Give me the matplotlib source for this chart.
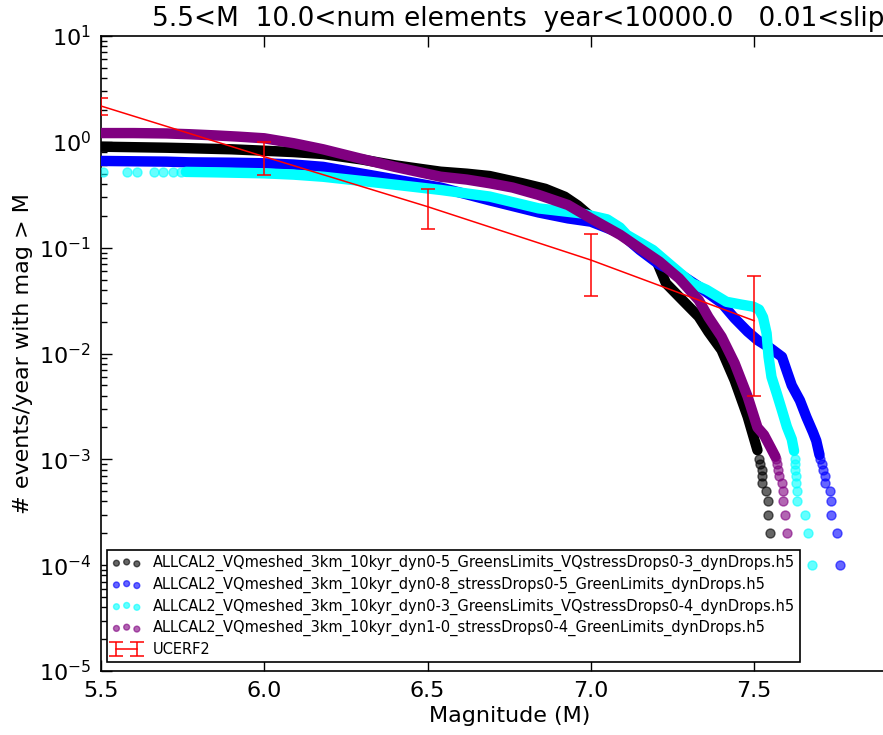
import matplotlib
matplotlib.use("Agg")
import matplotlib.pyplot as plt
import numpy as np

# ---------------- data ----------------
names = [
    "ALLCAL2_VQmeshed_3km_10kyr_dyn0-5_GreensLimits_VQstressDrops0-3_dynDrops.h5",
    "ALLCAL2_VQmeshed_3km_10kyr_dyn0-8_stressDrops0-5_GreenLimits_dynDrops.h5",
    "ALLCAL2_VQmeshed_3km_10kyr_dyn0-3_GreensLimits_VQstressDrops0-4_dynDrops.h5",
    "ALLCAL2_VQmeshed_3km_10kyr_dyn1-0_stressDrops0-4_GreenLimits_dynDrops.h5",
]
colors = ["black", "blue", "cyan", "purple"]

black_mag = [5.50, 5.60, 5.70, 5.77, 5.90, 6.00, 6.09, 6.18, 6.30, 6.40, 6.54, 6.62, 6.69,
             6.79, 6.86, 6.92, 6.96, 7.00, 7.05, 7.09, 7.15, 7.20, 7.23, 7.27, 7.33, 7.36,
             7.40, 7.44, 7.48, 7.51]
black_rate = [0.90, 0.89, 0.88, 0.87, 0.85, 0.824, 0.80, 0.767, 0.68, 0.60, 0.522, 0.50, 0.475,
              0.406, 0.36, 0.303, 0.25, 0.196, 0.16, 0.137, 0.106, 0.0764, 0.046, 0.0344, 0.0223,
              0.016, 0.0108, 0.0056, 0.00253, 0.00122]
black_tail_mag = [7.515, 7.518, 7.523, 7.525, 7.525, 7.535, 7.541, 7.541, 7.548, 7.556]
black_tail_rate = [1e-3, 9e-4, 8e-4, 7e-4, 6e-4, 5e-4, 4e-4, 3e-4, 2e-4, 1e-4]

blue_mag = [5.50, 5.60, 5.70, 5.77, 5.90, 6.00, 6.09, 6.18, 6.35, 6.54, 6.69, 6.84, 6.93,
            7.00, 7.09, 7.15, 7.21, 7.27, 7.33, 7.40, 7.44, 7.48, 7.51, 7.55, 7.585, 7.60,
            7.615, 7.64, 7.66, 7.68, 7.69, 7.70]
blue_rate = [0.66, 0.655, 0.65, 0.64, 0.635, 0.627, 0.61, 0.58, 0.47, 0.37, 0.28, 0.215, 0.189,
             0.176, 0.137, 0.095, 0.069, 0.057, 0.043, 0.030, 0.0215, 0.0161, 0.0134, 0.0112,
             0.0093, 0.0068, 0.0050, 0.0036, 0.0025, 0.0018, 0.0015, 0.0011]
blue_tail_mag = [7.703, 7.707, 7.712, 7.717, 7.717, 7.732, 7.735, 7.735, 7.755, 7.763]
blue_tail_rate = [1e-3, 9e-4, 8e-4, 7e-4, 6e-4, 5e-4, 4e-4, 3e-4, 2e-4, 1e-4]

cyan_head_mag = [5.507, 5.579, 5.609, 5.663, 5.691, 5.72, 5.745]
cyan_head_rate = [0.52, 0.52, 0.52, 0.52, 0.52, 0.52, 0.52]
cyan_mag = [5.76, 5.85, 5.92, 6.00, 6.09, 6.18, 6.35, 6.54, 6.69, 6.84, 6.97, 7.05, 7.089,
            7.11, 7.19, 7.25, 7.31, 7.354, 7.415, 7.46, 7.497, 7.515, 7.527, 7.538, 7.544,
            7.553, 7.569, 7.585, 7.600, 7.615, 7.622]
cyan_rate = [0.52, 0.515, 0.51, 0.504, 0.49, 0.468, 0.41, 0.351, 0.304, 0.235, 0.211, 0.185,
             0.155, 0.132, 0.095, 0.066, 0.046, 0.040, 0.0308, 0.029, 0.0277, 0.026, 0.022,
             0.0155, 0.0093, 0.006, 0.0042, 0.0029, 0.00203, 0.00155, 0.0012]
cyan_tail_mag = [7.624, 7.625, 7.626, 7.628, 7.628, 7.630, 7.632, 7.657, 7.666, 7.677]
cyan_tail_rate = [1e-3, 9e-4, 8e-4, 7e-4, 6e-4, 5e-4, 4e-4, 3e-4, 2e-4, 1e-4]

purple_mag = [5.50, 5.60, 5.70, 5.77, 5.85, 5.92, 6.00, 6.09, 6.18, 6.29, 6.40, 6.54, 6.62,
              6.69, 6.76, 6.84, 6.93, 7.00, 7.09, 7.15, 7.21, 7.27, 7.33, 7.36, 7.40, 7.44,
              7.48, 7.51, 7.53, 7.55, 7.565]
purple_rate = [1.21, 1.21, 1.20, 1.18, 1.15, 1.12, 1.08, 0.97, 0.85, 0.70, 0.58, 0.468, 0.44,
               0.406, 0.37, 0.315, 0.253, 0.189, 0.132, 0.0986, 0.0737, 0.0513, 0.032, 0.022,
               0.0144, 0.0081, 0.0039, 0.0020, 0.0017, 0.0013, 0.00106]
purple_tail_mag = [7.568, 7.571, 7.574, 7.577, 7.584, 7.587, 7.589, 7.594, 7.600, 7.610]
purple_tail_rate = [1e-3, 9e-4, 8e-4, 7e-4, 6e-4, 5e-4, 4e-4, 3e-4, 2e-4, 1e-4]

ucerf_mag = [5.5, 6.0, 6.5, 7.0, 7.5]
ucerf_rate = [2.18, 0.724, 0.244, 0.0764, 0.0204]
ucerf_low = [1.79, 0.486, 0.150, 0.0349, 0.00399]
ucerf_high = [2.59, 0.99, 0.356, 0.134, 0.0543]

title_text = "5.5<M  10.0<num elements  year<10000.0   0.01<slip"
xticks = [5.5, 6.0, 6.5, 7.0, 7.5]
xticklabels = ["5.5", "6.0", "6.5", "7.0", "7.5"]

# ---------------- figure ----------------
W, H = 883, 735
fig = plt.figure(figsize=(W / 100, H / 100), dpi=100)
ax = fig.add_axes([101 / W, 64 / H, 816.5 / W, 635 / H])

curves = [
    (black_mag, black_rate, black_tail_mag, black_tail_rate),
    (blue_mag, blue_rate, blue_tail_mag, blue_tail_rate),
    (cyan_mag, cyan_rate, cyan_tail_mag, cyan_tail_rate),
    (purple_mag, purple_rate, purple_tail_mag, purple_tail_rate),
]
handles = []
for i, ((m, r, tm, tr), c, nm) in enumerate(zip(curves, colors, names)):
    z = 2 + i
    ax.plot(m, r, color=c, lw=7.5, solid_capstyle="round", solid_joinstyle="round", zorder=z)
    if c == "cyan":
        ax.scatter(cyan_head_mag, cyan_head_rate, s=42, color=c, alpha=0.6,
                   edgecolors=c, linewidths=1, zorder=z)
    h = ax.scatter(tm, tr, s=42, color=c, alpha=0.6, edgecolors=c, linewidths=1,
                   zorder=z, label=nm)
    handles.append(h)

yerr = [np.array(ucerf_rate) - np.array(ucerf_low), np.array(ucerf_high) - np.array(ucerf_rate)]
eb = ax.errorbar(ucerf_mag, ucerf_rate, yerr=yerr, color="red", lw=1.1, elinewidth=1.1,
                 capsize=5, capthick=1.1, zorder=10, label="UCERF2")
handles.append(eb)

ax.set_yscale("log")
ax.set_ylim(1e-5, 1e1)
ax.set_xlim(5.5, 8.0)
ax.set_xticks(xticks)
ax.set_xticklabels(xticklabels)

ax.tick_params(which="both", direction="in", top=True, right=False, labelsize=16)
ax.tick_params(which="major", length=8, width=1, pad=7)
ax.tick_params(which="minor", length=4, width=1)
ax.tick_params(axis="x", which="minor", bottom=False, top=False)
for s in ax.spines.values():
    s.set_linewidth(1.2)
ax.spines["right"].set_visible(False)

ax.set_xlabel("Magnitude (M)", fontsize=16)
ax.set_ylabel("# events/year with mag > M", fontsize=16)

fig.text(152 / W, 1 - 26 / H, title_text, fontsize=19, ha="left", va="baseline")

leg = ax.legend(handles=handles, labels=names + ["UCERF2"], loc="lower left",
                bbox_to_anchor=(0.0073, 0.014), borderaxespad=0, fontsize=10.5,
                fancybox=False, framealpha=1, edgecolor="black", markerscale=0.65,
                numpoints=2, scatterpoints=3, handlelength=2.0, borderpad=0.35,
                labelspacing=0.38, handletextpad=0.8)
leg.get_frame().set_linewidth(1.2)

fig.savefig("out.png", dpi=100)
